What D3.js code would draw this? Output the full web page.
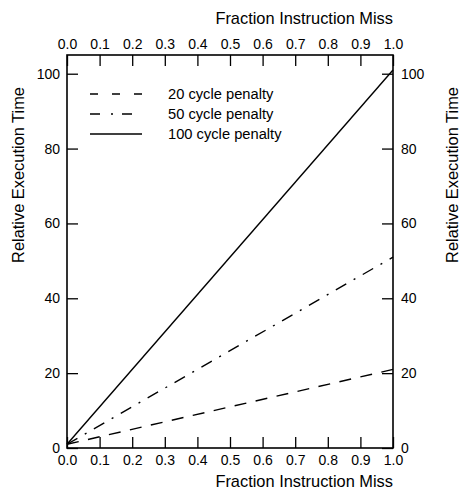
<!DOCTYPE html>
<html>
<head>
<meta charset="utf-8">
<script src="https://cdn.jsdelivr.net/npm/d3@7"></script>
<style>
  body { margin: 0; background: #fff; }
  svg text { font-family: "Liberation Sans", Arial, sans-serif; fill: #000; }
</style>
</head>
<body>
<div id="chart"></div>
<script>
// data
const fractions = [0, 1];
const penalties = [20, 50, 100];
const seriesLabels = ["20 cycle penalty", "50 cycle penalty", "100 cycle penalty"];
const xTicks = [0, 0.1, 0.2, 0.3, 0.4, 0.5, 0.6, 0.7, 0.8, 0.9, 1.0];
const yTicks = [0, 20, 40, 60, 80, 100];
const dashes = ["12,9.5", "12,8.5,2,8.5", null];
const legendDashes = ["8,14", "10,11,2,9", null];

const width = 460, height = 489;
const margin = {top: 55, right: 67, bottom: 41, left: 67};

const svg = d3.select("#chart").append("svg")
  .attr("width", width)
  .attr("height", height);

const x = d3.scaleLinear().domain([0, 1]).range([margin.left, width - margin.right]);
const y = d3.scaleLinear().domain([0, 105]).range([height - margin.bottom, margin.top]);

const tickLen = 11;
const fmt = d3.format(".1f");

// axes, ticks point inward
svg.append("g")
  .attr("transform", `translate(0,${y(0)})`)
  .call(d3.axisBottom(x).tickValues(xTicks).tickFormat(fmt).tickSize(-tickLen).tickSizeOuter(0).tickPadding(7))
  .call(g => g.select(".domain").remove());

svg.append("g")
  .attr("transform", `translate(0,${margin.top})`)
  .call(d3.axisTop(x).tickValues(xTicks).tickFormat(fmt).tickSize(-tickLen).tickSizeOuter(0).tickPadding(6))
  .call(g => g.select(".domain").remove());

svg.append("g")
  .attr("transform", `translate(${x(0)},0)`)
  .call(d3.axisLeft(y).tickValues(yTicks).tickSize(-tickLen).tickSizeOuter(0).tickPadding(7))
  .call(g => g.select(".domain").remove());

svg.append("g")
  .attr("transform", `translate(${x(1)},0)`)
  .call(d3.axisRight(y).tickValues(yTicks).tickSize(-tickLen).tickSizeOuter(0).tickPadding(8))
  .call(g => g.select(".domain").remove());

svg.selectAll(".tick text").attr("font-size", 14);
svg.selectAll(".tick line").attr("stroke-width", 1.3);

// frame
svg.append("rect")
  .attr("x", x(0)).attr("y", margin.top)
  .attr("width", x(1) - x(0)).attr("height", y(0) - margin.top)
  .attr("fill", "none").attr("stroke", "#000").attr("stroke-width", 1.6);

// series lines: relative time = 1 + miss * penalty
const line = d3.line().x(d => x(d[0])).y(d => y(d[1]));
penalties.forEach((p, i) => {
  svg.append("path")
    .datum(fractions.map(f => [f, 1 + f * p]))
    .attr("d", line)
    .attr("fill", "none")
    .attr("stroke", "#000")
    .attr("stroke-width", 1.4)
    .attr("stroke-dasharray", dashes[i]);
});

// legend
const legend = svg.append("g");
seriesLabels.forEach((s, i) => {
  const ly = 94 + i * 20;
  legend.append("line")
    .attr("x1", 90).attr("x2", 142).attr("y1", ly).attr("y2", ly)
    .attr("stroke", "#000").attr("stroke-width", 1.4)
    .attr("stroke-dasharray", legendDashes[i]);
  legend.append("text")
    .attr("x", 168).attr("y", ly).attr("dy", "0.35em")
    .attr("font-size", 14.7)
    .text(s);
});

// axis titles
svg.append("text")
  .attr("x", x(1)).attr("y", 18).attr("dy", "0.35em")
  .attr("text-anchor", "end").attr("font-size", 16.4)
  .text("Fraction Instruction Miss");

svg.append("text")
  .attr("x", x(1)).attr("y", 481).attr("dy", "0.35em")
  .attr("text-anchor", "end").attr("font-size", 16.4)
  .text("Fraction Instruction Miss");

svg.append("text")
  .attr("transform", "translate(18,175) rotate(-90)")
  .attr("dy", "0.35em")
  .attr("text-anchor", "middle").attr("font-size", 16.4)
  .text("Relative Execution Time");

svg.append("text")
  .attr("transform", "translate(452,175) rotate(-90)")
  .attr("dy", "0.35em")
  .attr("text-anchor", "middle").attr("font-size", 16.4)
  .text("Relative Execution Time");
</script>
</body>
</html>
